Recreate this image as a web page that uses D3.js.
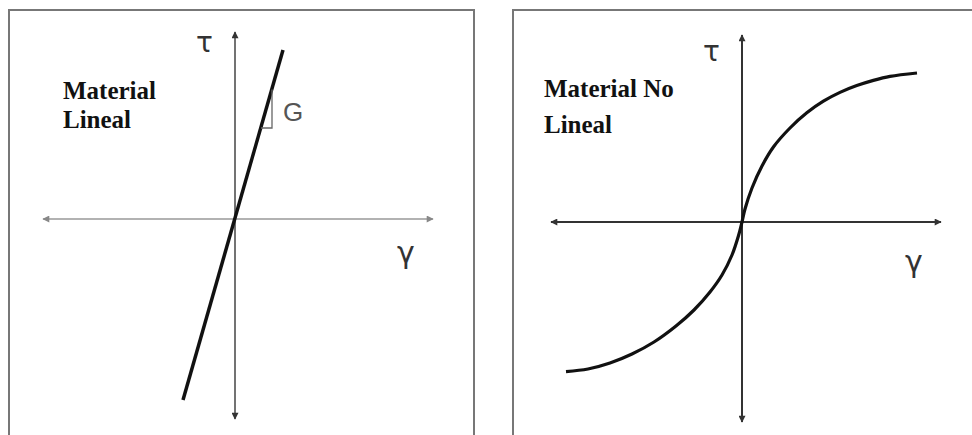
<!DOCTYPE html>
<html>
<head>
<meta charset="utf-8">
<script src="https://cdn.jsdelivr.net/npm/d3@7"></script>
<style>
  body { margin: 0; background: #fff; }
  svg { display: block; }
</style>
</head>
<body>
<div id="chart"></div>
<script>
// Linear material: straight line through the origin
const linGamma = [-0.26, 0.24];
const linTau = [-0.905, 0.845];
// slope triangle (G) on the straight line
const triGamma = [0.13, 0.185];
const slopeG = 3.5;

// Non linear material: S curve
const nlGamma = [-0.88, -0.77, -0.66, -0.55, -0.44, -0.33, -0.24, -0.16, -0.10, -0.05, -0.018, 0,
                 0.015, 0.05, 0.10, 0.157, 0.24, 0.324, 0.407, 0.49, 0.574, 0.657, 0.74, 0.875];
const nlTau = [-0.748, -0.735, -0.705, -0.66, -0.60, -0.52, -0.44, -0.35, -0.265, -0.165, -0.07, 0,
               0.065, 0.17, 0.28, 0.375, 0.47, 0.546, 0.604, 0.648, 0.682, 0.708, 0.728, 0.745];

// axis extents (data units) for each panel
const gammaAxis = [[-0.96, 0.99], [-0.955, 0.995]];
const tauAxis = [[-1.0, 0.935], [-1.0, 0.935]];

const panelTitles = [["Material", "Lineal"], ["Material No", "Lineal"]];
const axisNames = ["γ", "τ"];

const width = 972, height = 435;

const svg = d3.select("#chart")
    .append("svg")
    .attr("width", width)
    .attr("height", height);

// arrow heads
const defs = svg.append("defs");
[["arrDark", "#333"], ["arrLight", "#888"]].forEach(([id, c]) => {
    defs.append("marker")
        .attr("id", id)
        .attr("viewBox", "0 0 10 10")
        .attr("refX", 9).attr("refY", 5)
        .attr("markerWidth", 10).attr("markerHeight", 7)
        .attr("markerUnits", "userSpaceOnUse")
        .attr("orient", "auto-start-reverse")
        .append("path")
        .attr("d", "M0,0 L10,5 L0,10 Z")
        .attr("fill", c);
});

// panel frames
svg.append("path")
    .attr("d", "M9,436 V10 H474 V436")
    .attr("fill", "none").attr("stroke", "#777").attr("stroke-width", 2);
svg.append("path")
    .attr("d", "M513,436 V10 H974")
    .attr("fill", "none").attr("stroke", "#777").attr("stroke-width", 2);

const panels = [
    { ox: 235, oy: 219, hColor: "#999", hArrow: "arrLight", vColor: "#444", axisW: 1.5,
      gDy: 44, tDy: 20, titleX: 63, titleY: 99, lead: 29 },
    { ox: 742, oy: 222, hColor: "#333", hArrow: "arrDark", vColor: "#333", axisW: 2,
      gDy: 50, tDy: 26, titleX: 544, titleY: 97, lead: 36 }
];

panels.forEach((p, i) => {
    const x = d3.scaleLinear().domain([-1, 1]).range([p.ox - 200, p.ox + 200]);
    const y = d3.scaleLinear().domain([-1, 1]).range([p.oy + 200, p.oy - 200]);
    p.x = x; p.y = y;
    const g = svg.append("g");

    // gamma axis
    g.append("line")
        .attr("x1", x(gammaAxis[i][0])).attr("x2", x(gammaAxis[i][1]))
        .attr("y1", y(0)).attr("y2", y(0))
        .attr("stroke", p.hColor).attr("stroke-width", p.axisW)
        .attr("marker-start", `url(#${p.hArrow})`)
        .attr("marker-end", `url(#${p.hArrow})`);

    // tau axis
    g.append("line")
        .attr("x1", x(0)).attr("x2", x(0))
        .attr("y1", y(tauAxis[i][0])).attr("y2", y(tauAxis[i][1]))
        .attr("stroke", p.vColor).attr("stroke-width", p.axisW)
        .attr("marker-start", "url(#arrDark)")
        .attr("marker-end", "url(#arrDark)");

    // axis names
    g.append("text")
        .attr("x", x(gammaAxis[i][1]) - 36)
        .attr("y", y(0) + p.gDy)
        .attr("font-family", "DejaVu Sans, sans-serif")
        .attr("font-size", 30)
        .attr("fill", "#333")
        .text(axisNames[0]);
    g.append("text")
        .attr("x", x(0) - 39)
        .attr("y", y(tauAxis[i][1]) + p.tDy)
        .attr("font-family", "DejaVu Sans, sans-serif")
        .attr("font-size", 28)
        .attr("fill", "#333")
        .text(axisNames[1]);

    // title
    const t = g.append("text")
        .attr("font-family", "Liberation Serif, Times New Roman, serif")
        .attr("font-weight", "bold")
        .attr("font-size", 25)
        .attr("fill", "#111");
    panelTitles[i].forEach((s, k) => {
        t.append("tspan")
            .attr("x", p.titleX)
            .attr("y", p.titleY + k * p.lead)
            .text(s);
    });
});

// straight line
const pl = panels[0];
const lin = d3.line().x(d => pl.x(d[0])).y(d => pl.y(d[1]));
svg.append("path")
    .datum(d3.zip(linGamma, linTau))
    .attr("d", lin)
    .attr("fill", "none")
    .attr("stroke", "#111")
    .attr("stroke-width", 3.5);

// slope triangle
const tri = [
    [triGamma[0], triGamma[0] * slopeG],
    [triGamma[1], triGamma[0] * slopeG],
    [triGamma[1], triGamma[1] * slopeG]
];
svg.append("path")
    .datum(tri)
    .attr("d", lin)
    .attr("fill", "none")
    .attr("stroke", "#666")
    .attr("stroke-width", 1.3);
svg.append("text")
    .attr("x", pl.x(triGamma[1]) + 11)
    .attr("y", pl.y(triGamma[0] * slopeG) - 7)
    .attr("font-family", "Liberation Sans, Arial, sans-serif")
    .attr("font-size", 26)
    .attr("fill", "#555")
    .text("G");

// S curve
const pr = panels[1];
svg.append("path")
    .datum(d3.zip(nlGamma, nlTau))
    .attr("d", d3.line().x(d => pr.x(d[0])).y(d => pr.y(d[1])).curve(d3.curveCatmullRom.alpha(0.5)))
    .attr("fill", "none")
    .attr("stroke", "#111")
    .attr("stroke-width", 3.2);
</script>
</body>
</html>
